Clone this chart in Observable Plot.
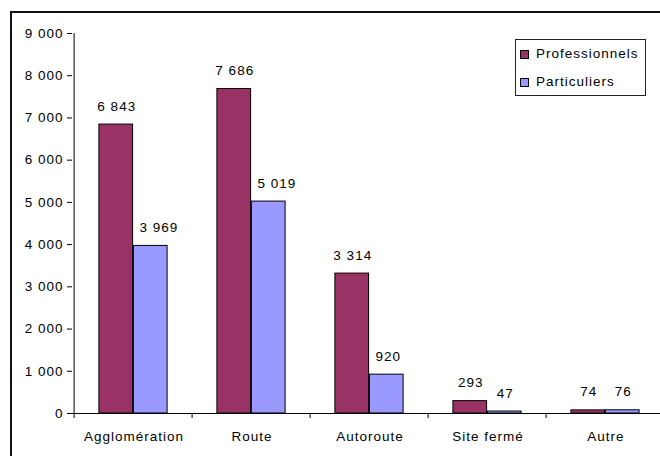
<!DOCTYPE html>
<html>
<head>
<meta charset="utf-8">
<script src="https://cdn.jsdelivr.net/npm/d3@7"></script>
<script src="https://cdn.jsdelivr.net/npm/@observablehq/plot@0.6"></script>
<style>
  html, body { margin: 0; padding: 0; background: #fff; overflow: hidden; width: 660px; height: 456px; }
  #wrap { position: relative; width: 660px; height: 456px; overflow: hidden; }
  #frame { position: absolute; left: 10px; top: 11px; width: 720px; height: 520px; border: 2px solid #111; box-sizing: border-box; }
  #chart { position: absolute; left: 0; top: 0; }
  #legend { position: absolute; left: 515px; top: 39px; width: 131px; height: 57px; border: 1px solid #222; box-sizing: border-box; background: #fff;
    font-family: "Liberation Sans", Arial, sans-serif; font-size: 13.5px; letter-spacing: 1px; color: #000; }
  .item { position: absolute; left: 4px; height: 16px; line-height: 16px; white-space: nowrap; }
  .sw { position: absolute; left: 0; top: 4px; width: 7px; height: 7px; border: 1px solid #000; }
  .lab { position: absolute; left: 16px; top: 0; }
</style>
</head>
<body>
<div id="wrap">
  <div id="frame"></div>
  <div id="chart"></div>
  <div id="legend"></div>
</div>
<script>
const categories = ["Agglomération", "Route", "Autoroute", "Site fermé", "Autre"];
const series = ["Professionnels", "Particuliers"];
const professionnels = [6843, 7686, 3314, 293, 74];
const particuliers = [3969, 5019, 920, 47, 76];
const yTicks = [0, 1000, 2000, 3000, 4000, 5000, 6000, 7000, 8000, 9000];
const colors = ["#993366", "#9999FF"];

const FONT_SIZE = 13.5, LETTER = 1;
const fmt = d => d3.format(",")(d).replace(/,/g, " ");

const rows = [];
categories.forEach((c, i) => {
  rows.push({category: c, series: series[0], value: professionnels[i], other: particuliers[i]});
  rows.push({category: c, series: series[1], value: particuliers[i], other: professionnels[i]});
});
const proRows = rows.filter(d => d.series === series[0]);
const parRows = rows.filter(d => d.series === series[1]);

const xRange = [72, 666];
const yRange = [413, 33];
const step = (xRange[1] - xRange[0]) / categories.length;
const half = step / 2;
const barW = 34.5;
const outer = half - barW;
const ls = LETTER / 2;

// text width measurement (to keep labels clear of the neighbouring taller bar, as Excel does)
const ctx = document.createElement("canvas").getContext("2d");
ctx.font = `${FONT_SIZE}px "Liberation Sans", Arial, sans-serif`;
const textW = s => ctx.measureText(s).width + LETTER * s.length;
const pxPerUnit = (yRange[0] - yRange[1]) / 9000;
const parDx = d => {
  const w = textW(fmt(d.value));
  const labelBottomGap = 14; // baseline offset above bar
  const overlaps = (d.other - d.value) * pxPerUnit > labelBottomGap - 2;
  return overlaps ? Math.max(barW / 2, w / 2 + 5.5) : barW / 2;
};

const plot = Plot.plot({
  width: 660,
  height: 456,
  marginLeft: 72,
  marginRight: 0,
  marginTop: 33,
  marginBottom: 43,
  style: {fontFamily: "Liberation Sans, Arial, sans-serif", fontSize: FONT_SIZE + "px", letterSpacing: LETTER + "px", background: "transparent", color: "#000", overflow: "visible"},
  x: {domain: categories, range: xRange, padding: 0, axis: null},
  y: {domain: [0, 9000], range: yRange, axis: null},
  marks: [
    Plot.barY(proRows, {x: "category", y: "value", fill: colors[0], stroke: "#000", strokeWidth: 1, insetLeft: outer, insetRight: half}),
    Plot.barY(parRows, {x: "category", y: "value", fill: colors[1], stroke: "#000", strokeWidth: 1, insetLeft: half, insetRight: outer}),
    Plot.text(proRows, {x: "category", y: "value", text: d => fmt(d.value), dx: -barW / 2 + ls, dy: -14, lineAnchor: "bottom", fill: "#000"}),
    ...parRows.map(d => Plot.text([d], {x: "category", y: "value", text: d => fmt(d.value), dx: parDx(d) + ls, dy: -14, lineAnchor: "bottom", fill: "#000"})),
    // y axis
    Plot.ruleX([categories[0]], {dx: -half, stroke: "#000"}),
    Plot.axisY({ticks: yTicks, tickFormat: fmt, tickSize: 5, tickPadding: 4, stroke: "#000", fill: "#000", label: null}),
    // x axis
    Plot.ruleY([0], {stroke: "#000"}),
    Plot.ruleX(categories, {dx: -half, y1: 0, y2: 0, insetBottom: -5, stroke: "#000"}),
    Plot.axisX({tickSize: 0, tickPadding: 18, dx: ls, fill: "#000", label: null})
  ]
});
document.getElementById("chart").appendChild(plot);

const legend = document.getElementById("legend");
series.forEach((s, i) => {
  const item = document.createElement("div");
  item.className = "item";
  item.style.top = (i === 0 ? 6 : 34) + "px";
  const sw = document.createElement("div");
  sw.className = "sw";
  sw.style.background = colors[i];
  const lab = document.createElement("div");
  lab.className = "lab";
  lab.textContent = s;
  item.appendChild(sw);
  item.appendChild(lab);
  legend.appendChild(item);
});
</script>
</body>
</html>
